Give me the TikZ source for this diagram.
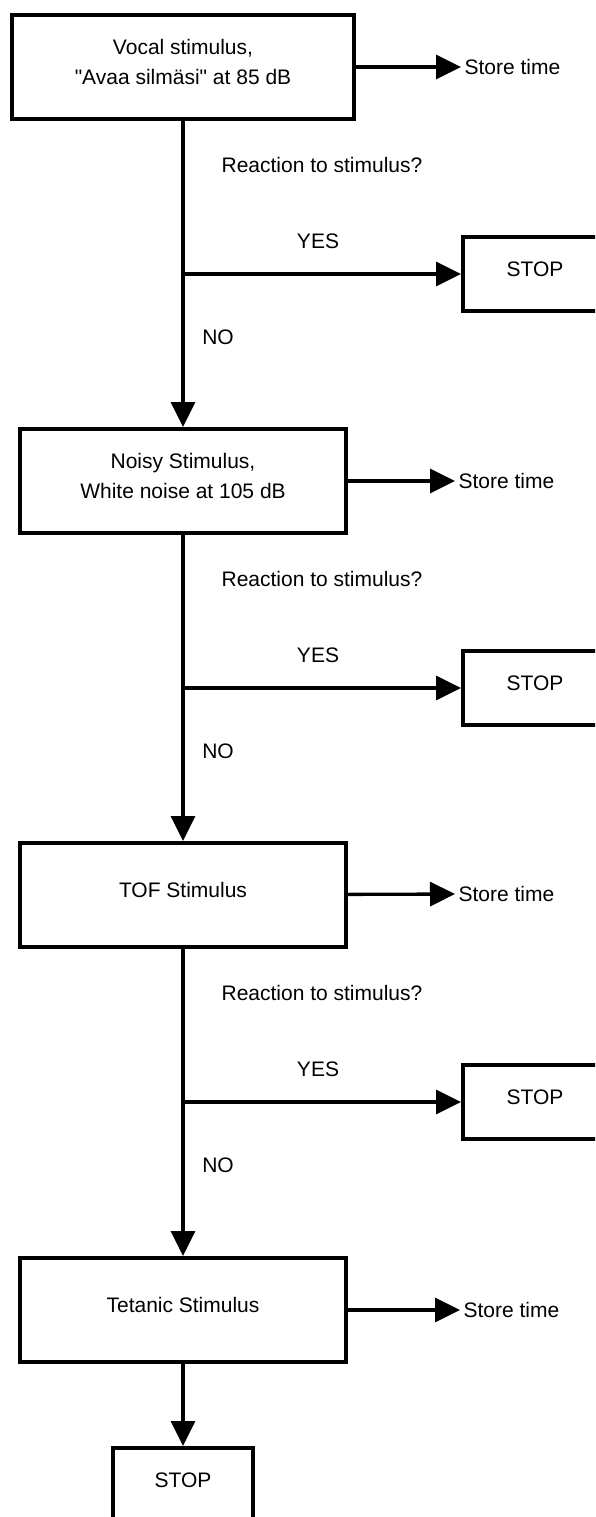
\documentclass[tikz,border=0pt]{standalone}
\usepackage{fontspec}
\setmainfont{Liberation Sans}
\usetikzlibrary{arrows.meta, positioning}

\begin{document}
\begin{tikzpicture}[x=1pt, y=-1pt,
every node/.style={font=\fontsize{21}{30}\selectfont},
stimulus/.style={rectangle, text centered, align=center, draw=black,
  line width=4pt, minimum width=326pt, minimum height=104pt, text depth=10pt},
stopbox/.style={rectangle, text centered, draw=black,
  line width=4pt, minimum width=144pt, minimum height=74pt, text depth=10pt},
flow/.style={-{Triangle[length=25pt, width=24pt]}, line width=3.3pt, color=black},
]

\clip (0, 0) rectangle (595, 1517);

% stimulus boxes
\node[stimulus, minimum width=342pt]
(vocal) at (183, 67)
{Vocal stimulus,\\\textquotedbl Avaa silmäsi\textquotedbl{} at 85 dB};

\node[stimulus]
(noisy) at (183, 481)
{Noisy Stimulus,\\White noise at 105 dB};

\node[stimulus]
(tof) at (183, 895)
{TOF Stimulus};

\node[stimulus]
(tetanic) at (183, 1310)
{Tetanic Stimulus};

% stop boxes
\node[stopbox]
(stop-vocal) at (535, 274)
{STOP};

\node[stopbox]
(stop-noisy) at (535, 688)
{STOP};

\node[stopbox]
(stop-tof) at (535, 1102)
{STOP};

\node[stopbox, minimum width=140pt]
(stop-end) at (183, 1485)
{STOP};

% store time labels
\node[anchor=west] (store-vocal) at (461, 67) {Store time};
\node[anchor=west] (store-noisy) at (455, 481) {Store time};
\node[anchor=west] (store-tof) at (455, 894) {Store time};
\node[anchor=west] (store-tetanic) at (460, 1310) {Store time};

% question labels
\node (ask-vocal) at (322, 165) {Reaction to stimulus?};
\node (ask-noisy) at (322, 579) {Reaction to stimulus?};
\node (ask-tof) at (322, 993) {Reaction to stimulus?};

\node (yes-vocal) at (318, 241) {YES};
\node (yes-noisy) at (318, 655) {YES};
\node (yes-tof) at (318, 1069) {YES};

\node (no-vocal) at (218, 337) {NO};
\node (no-noisy) at (218, 751) {NO};
\node (no-tof) at (218, 1165) {NO};

% forks on the main line
\coordinate (fork-vocal) at (183, 274);
\coordinate (fork-noisy) at (183, 688);
\coordinate (fork-tof) at (183, 1102);

\draw[flow] (vocal) -- (noisy);
\draw[flow] (noisy) -- (tof);
\draw[flow] (tof) -- (tetanic);
\draw[flow] (tetanic) -- (stop-end);

\draw[flow] (fork-vocal) -- (stop-vocal);
\draw[flow] (fork-noisy) -- (stop-noisy);
\draw[flow] (fork-tof) -- (stop-tof);

\draw[flow] (vocal) -- (store-vocal.west);
\draw[flow] (noisy) -- (store-noisy.west);
\draw[flow] (tof) -- (store-tof.west);
\draw[flow] (tetanic) -- (store-tetanic.west);

\end{tikzpicture}
\end{document}
